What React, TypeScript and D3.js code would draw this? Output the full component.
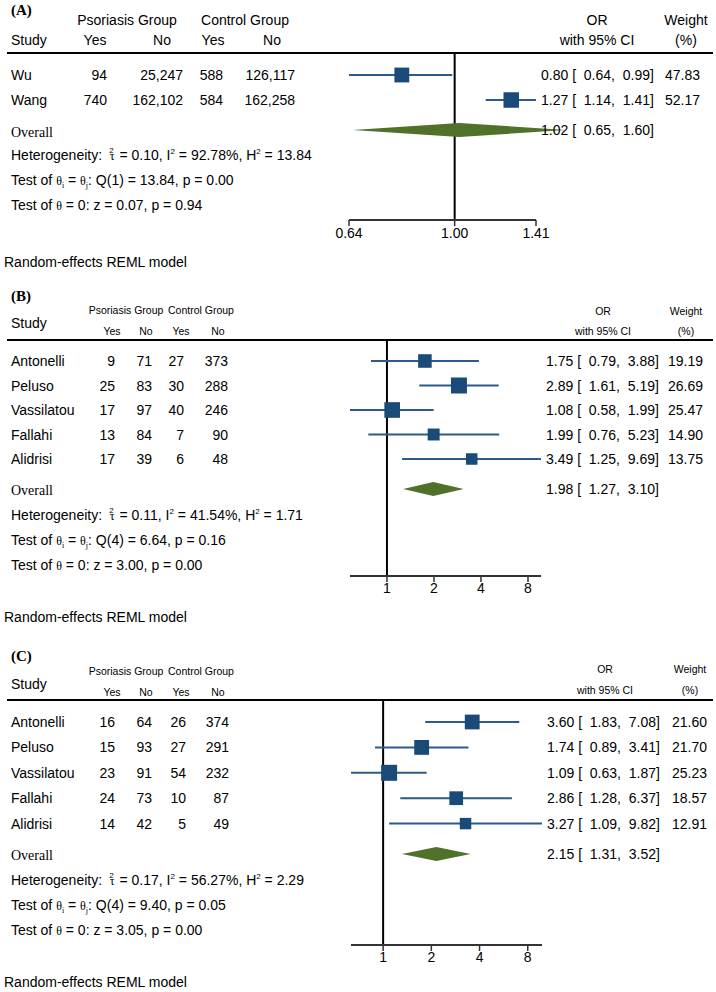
import React from 'react';
import * as d3 from 'd3';

const SANS = '"Liberation Sans", Arial, Helvetica, sans-serif';
const SERIF = '"Liberation Serif", "Times New Roman", serif';

const BOX = '#1a4a78';
const CI_LINE = '#2c5b8a';
const DIAMOND = '#4f7129';

// ---------- Panel A data ----------
const studiesA = ['Wu', 'Wang'];
const psoYesA = [94, 740];
const psoNoA = [25247, 162102];
const ctrlYesA = [588, 584];
const ctrlNoA = [126117, 162258];
const orA = [0.8, 1.27];
const loA = [0.64, 1.14];
const hiA = [0.99, 1.41];
const weightA = [47.83, 52.17];
const overallA = [1.02, 0.65, 1.6];
const hetA = ['0.10', '92.78%', '13.84'];
const qTestA = ['1', '13.84', '0.00'];
const zTestA = ['0.07', '0.94'];
const ticksA = [0.64, 1.0, 1.41];

// ---------- Panel B data ----------
const studiesB = ['Antonelli', 'Peluso', 'Vassilatou', 'Fallahi', 'Alidrisi'];
const psoYesB = [9, 25, 17, 13, 17];
const psoNoB = [71, 83, 97, 84, 39];
const ctrlYesB = [27, 30, 40, 7, 6];
const ctrlNoB = [373, 288, 246, 90, 48];
const orB = [1.75, 2.89, 1.08, 1.99, 3.49];
const loB = [0.79, 1.61, 0.58, 0.76, 1.25];
const hiB = [3.88, 5.19, 1.99, 5.23, 9.69];
const weightB = [19.19, 26.69, 25.47, 14.9, 13.75];
const overallB = [1.98, 1.27, 3.1];
const hetB = ['0.11', '41.54%', '1.71'];
const qTestB = ['4', '6.64', '0.16'];
const zTestB = ['3.00', '0.00'];
const ticksB = [1, 2, 4, 8];

// ---------- Panel C data ----------
const studiesC = ['Antonelli', 'Peluso', 'Vassilatou', 'Fallahi', 'Alidrisi'];
const psoYesC = [16, 15, 23, 24, 14];
const psoNoC = [64, 93, 91, 73, 42];
const ctrlYesC = [26, 27, 54, 10, 5];
const ctrlNoC = [374, 291, 232, 87, 49];
const orC = [3.6, 1.74, 1.09, 2.86, 3.27];
const loC = [1.83, 0.89, 0.63, 1.28, 1.09];
const hiC = [7.08, 3.41, 1.87, 6.37, 9.82];
const weightC = [21.6, 21.7, 25.23, 18.57, 12.91];
const overallC = [2.15, 1.31, 3.52];
const hetC = ['0.17', '56.27%', '2.29'];
const qTestC = ['4', '9.40', '0.05'];
const zTestC = ['3.05', '0.00'];
const ticksC = [1, 2, 4, 8];

const panelLabels = ['(A)', '(B)', '(C)'];

const dataA = { studies: studiesA, psoYes: psoYesA, psoNo: psoNoA, ctrlYes: ctrlYesA, ctrlNo: ctrlNoA, or: orA, lo: loA, hi: hiA, weight: weightA, overall: overallA, het: hetA, q: qTestA, z: zTestA, ticks: ticksA, tickFmt: '.2f' };
const dataB = { studies: studiesB, psoYes: psoYesB, psoNo: psoNoB, ctrlYes: ctrlYesB, ctrlNo: ctrlNoB, or: orB, lo: loB, hi: hiB, weight: weightB, overall: overallB, het: hetB, q: qTestB, z: zTestB, ticks: ticksB, tickFmt: 'd' };
const dataC = { studies: studiesC, psoYes: psoYesC, psoNo: psoNoC, ctrlYes: ctrlYesC, ctrlNo: ctrlNoC, or: orC, lo: loC, hi: hiC, weight: weightC, overall: overallC, het: hetC, q: qTestC, z: zTestC, ticks: ticksC, tickFmt: 'd' };

// ---------- Layouts ----------
const layoutA = {
  label: 15, grpY: 25, grpSize: 14, grpX: [127, 245], studyY: 45, ynY: 45, ynSize: 14, ynX: [95, 162, 213, 272],
  orY: 25, ciHY: 45, hSize: 14, orX: 597, wX: 686, hLine: 53, row0: 75, step: 25, numR: [107, 183, 223, 295],
  domain: [0.64, 1.41], range: [349, 536], diamondY: 130, axisY: 220, tickY: 238,
  overallY: 137, statY: [160, 185, 210], randomY: 267, ciX: 541, wR: 700, maxSide: 15.5,
};
const layoutB = {
  label: 301, grpY: 314, grpSize: 10.5, grpX: [126, 201], studyY: 328, ynY: 335, ynSize: 10.5, ynX: [112, 146, 181, 218],
  orY: 315, ciHY: 335, hSize: 10.5, orX: 603, wX: 686, hLine: 340, row0: 361, step: 24.5, numR: [115, 152, 184, 228],
  domain: [0.58, 9.69], range: [350, 541], diamondY: 489, axisY: 576, tickY: 593,
  overallY: 495, statY: [520, 545, 570], randomY: 622, ciX: 546, wR: 703, maxSide: 16,
};
const layoutC = {
  label: 661, grpY: 675, grpSize: 10.5, grpX: [126, 201], studyY: 689, ynY: 696, ynSize: 10.5, ynX: [112, 146, 181, 218],
  orY: 673, ciHY: 694, hSize: 10.5, orX: 605, wX: 690, hLine: 700, row0: 722, step: 25.4, numR: [115, 152, 186, 229],
  domain: [0.63, 9.82], range: [351, 542], diamondY: 854, axisY: 945, tickY: 962,
  overallY: 860, statY: [885, 910, 935], randomY: 987, ciX: 547, wR: 707, maxSide: 16,
};

const f2 = d3.format('.2f');
const fc = d3.format(',');

function Panel({ d, L, label }: { d: any; L: any; label: string }) {
  const x = d3.scaleLog().domain(L.domain).range(L.range);
  const maxW = d3.max(d.weight as number[]) as number;
  const tf = d3.format(d.tickFmt);
  const rowY = (i: number) => L.row0 + i * L.step;
  const ciStr = (o: number, l: number, h: number) => `${f2(o)} [  ${f2(l)},  ${f2(h)}]`;
  const [ov, ol, oh] = d.overall;
  const dY = L.diamondY;
  const dh = 7;
  const diamond = `M${x(ol)},${dY} L${x(ov)},${dY - dh} L${x(oh)},${dY} L${x(ov)},${dY + dh} Z`;
  const txt = { fontFamily: SANS, fill: '#000' } as const;

  return (
    <g>
      <text x={11} y={L.label} fontFamily={SERIF} fontWeight="bold" fontSize={15}>{label}</text>
      {/* header */}
      <text x={L.grpX[0]} y={L.grpY} textAnchor="middle" fontSize={L.grpSize} {...txt}>Psoriasis Group</text>
      <text x={L.grpX[1]} y={L.grpY} textAnchor="middle" fontSize={L.grpSize} {...txt}>Control Group</text>
      <text x={11} y={L.studyY} fontSize={14} {...txt}>Study</text>
      {['Yes', 'No', 'Yes', 'No'].map((t, i) => (
        <text key={i} x={L.ynX[i]} y={L.ynY} textAnchor="middle" fontSize={L.ynSize} {...txt}>{t}</text>
      ))}
      <text x={L.orX} y={L.orY} textAnchor="middle" fontSize={L.hSize} {...txt}>OR</text>
      <text x={L.orX} y={L.ciHY} textAnchor="middle" fontSize={L.hSize} {...txt}>with 95% CI</text>
      <text x={L.wX} y={L.orY} textAnchor="middle" fontSize={L.hSize} {...txt}>Weight</text>
      <text x={L.wX} y={L.ciHY} textAnchor="middle" fontSize={L.hSize} {...txt}>(%)</text>
      <line x1={7} x2={713} y1={L.hLine} y2={L.hLine} stroke="#000" strokeWidth={2} />

      {/* reference line at OR = 1 */}
      <line x1={x(1)} x2={x(1)} y1={L.hLine} y2={L.axisY} stroke="#000" strokeWidth={2} />

      {/* rows */}
      {d.studies.map((s: string, i: number) => {
        const y = rowY(i);
        const side = L.maxSide * Math.sqrt(d.weight[i] / maxW);
        const cols = [d.psoYes[i], d.psoNo[i], d.ctrlYes[i], d.ctrlNo[i]];
        return (
          <g key={s}>
            <text x={11} y={y + 5} fontSize={14} {...txt}>{s}</text>
            {cols.map((v: number, j: number) => (
              <text key={j} x={L.numR[j]} y={y + 5} textAnchor="end" fontSize={14} {...txt}>{fc(v)}</text>
            ))}
            <line x1={x(d.lo[i])} x2={x(d.hi[i])} y1={y} y2={y} stroke={CI_LINE} strokeWidth={2} />
            <rect x={x(d.or[i]) - side / 2} y={y - side / 2} width={side} height={side} fill={BOX} />
            <text x={L.ciX} y={y + 5} fontSize={14} style={{ whiteSpace: 'pre' }} {...txt}>{ciStr(d.or[i], d.lo[i], d.hi[i])}</text>
            <text x={L.wR} y={y + 5} textAnchor="end" fontSize={14} {...txt}>{f2(d.weight[i])}</text>
          </g>
        );
      })}

      {/* overall */}
      <path d={diamond} fill={DIAMOND} />
      <text x={L.ciX} y={dY + 5} fontSize={14} style={{ whiteSpace: 'pre' }} {...txt}>{ciStr(ov, ol, oh)}</text>
      <text x={11} y={L.overallY} fontFamily={SERIF} fontSize={14}>Overall</text>

      {/* stats */}
      <text x={11} y={L.statY[0]} fontSize={14} style={{ whiteSpace: 'pre' }} {...txt}>
        {'Heterogeneity:  '}
        <tspan fontFamily={SERIF} fontSize={12}>τ</tspan>
        <tspan fontSize={8} dx={-5.5} dy={-7}>2</tspan>
        <tspan dy={7} dx={2}>{` = ${d.het[0]}, I`}</tspan>
        <tspan fontSize={8} dy={-6}>2</tspan>
        <tspan dy={6}>{` = ${d.het[1]}, H`}</tspan>
        <tspan fontSize={8} dy={-6}>2</tspan>
        <tspan dy={6}>{` = ${d.het[2]}`}</tspan>
      </text>
      <text x={11} y={L.statY[1]} fontSize={14} style={{ whiteSpace: 'pre' }} {...txt}>
        {'Test of '}
        <tspan fontFamily={SERIF} fontSize={12}>θ</tspan>
        <tspan fontFamily={SERIF} fontSize={8} dy={3}>i</tspan>
        <tspan dy={-3}>{' = '}</tspan>
        <tspan fontFamily={SERIF} fontSize={12}>θ</tspan>
        <tspan fontFamily={SERIF} fontSize={8} dy={3}>j</tspan>
        <tspan dy={-3}>{`: Q(${d.q[0]}) = ${d.q[1]}, p = ${d.q[2]}`}</tspan>
      </text>
      <text x={11} y={L.statY[2]} fontSize={14} style={{ whiteSpace: 'pre' }} {...txt}>
        {'Test of '}
        <tspan fontFamily={SERIF} fontSize={12}>θ</tspan>
        <tspan>{` = 0: z = ${d.z[0]}, p = ${d.z[1]}`}</tspan>
      </text>

      {/* axis */}
      <line x1={L.range[0]} x2={L.range[1]} y1={L.axisY} y2={L.axisY} stroke="#333" strokeWidth={2} />
      {d.ticks.map((t: number) => (
        <g key={t}>
          <line x1={x(t)} x2={x(t)} y1={L.axisY} y2={L.axisY + 6} stroke="#333" strokeWidth={1.5} />
          <text x={x(t)} y={L.tickY} textAnchor="middle" fontSize={14} {...txt}>{tf(t)}</text>
        </g>
      ))}

      <text x={4} y={L.randomY} fontSize={14} {...txt}>Random-effects REML model</text>
    </g>
  );
}

export default function App() {
  return (
    <svg width={716} height={992} style={{ position: 'absolute', left: 0, top: 0, background: '#fff' }}>
      <rect width={716} height={992} fill="#fff" />
      <Panel d={dataA} L={layoutA} label={panelLabels[0]} />
      <Panel d={dataB} L={layoutB} label={panelLabels[1]} />
      <Panel d={dataC} L={layoutC} label={panelLabels[2]} />
    </svg>
  );
}
